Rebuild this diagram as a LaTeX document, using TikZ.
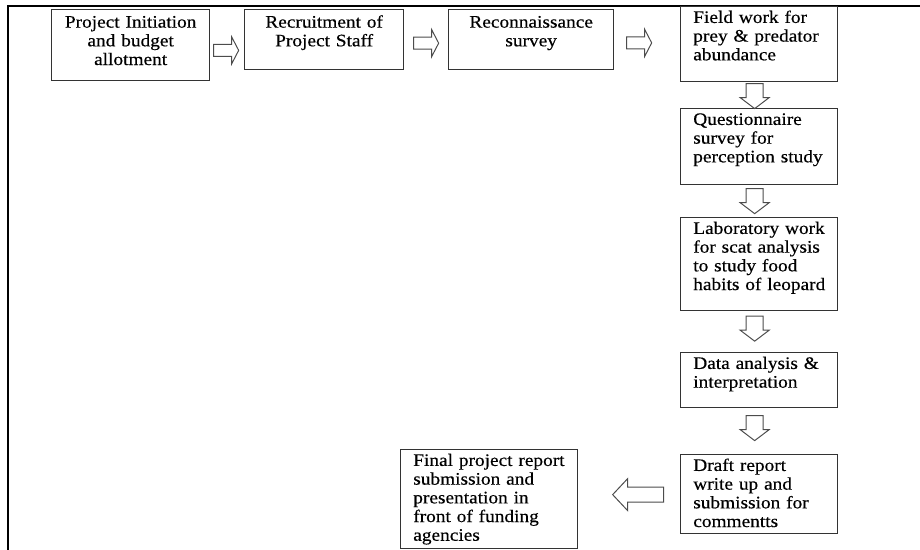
\documentclass[tikz,border=0pt]{standalone}
\usepackage{fontspec}
\setmainfont{Liberation Serif}[FakeStretch=1.10, FakeBold=0.4]
\usetikzlibrary{calc}

\tikzset{
  stage/.style={draw=black!80, line width=0.9pt, inner xsep=9pt, inner ysep=0pt,
    anchor=north west, align=left, text height=11.6pt,
    font=\fontsize{12.5}{13.3}\selectfont,
    execute at begin node={\hyphenpenalty=10000\exhyphenpenalty=10000\hbadness=10000\hfuzz=20pt}},
  toprow/.style={stage, align=center, text height=12.8pt},
  blockline/.style={draw=black!70, line width=0.7pt, fill=white},
  pics/blk/.style n args={4}{code={
    \draw[blockline] (-#1/2,-#2/2) -- (#1/2-#4,-#2/2) -- (#1/2-#4,-#3/2) -- (#1/2,0)
      -- (#1/2-#4,#3/2) -- (#1/2-#4,#2/2) -- (-#1/2,#2/2) -- cycle;
  }},
}

\begin{document}
\begin{tikzpicture}[x=0.025cm, y=-0.025cm]
\useasboundingbox (0,0) rectangle (920,550);
\draw[line width=1.5pt] (920,6) -- (8,6) -- (8,550);

\node[toprow, text width=94.4pt, text depth=37.7pt] (init) at (51,9) {Project~Initiation\\and~budget\\allotment};
\node[toprow, text width=95.1pt, text depth=29.9pt] (staff) at (244,9) {Recruitment~of\\Project~Staff};
\node[toprow, text width=99.4pt, text depth=29.9pt] (recon) at (448,9) {Reconnaissance\\survey};
\node[stage, text width=93.7pt, text depth=41.7pt] (field) at (680,6) {Field~work~for\\prey~\&~predator\\abundance};
\node[stage, text width=93.7pt, text depth=42.5pt] (quest) at (680,108) {Questionnaire\\survey~for\\perception~study};
\node[stage, text width=93.7pt, text depth=54.6pt] (lab) at (680,217) {Laboratory~work\\for~scat~analysis\\to~study~food\\habits~of~leopard};
\node[stage, text width=93.7pt, text depth=27.5pt] (analysis) at (680,352) {Data~analysis~\&\\interpretation};
\node[stage, text width=93.7pt, text depth=44.6pt] (draft) at (680,454) {Draft~report\\write~up~and\\submission~for\\commentts};
\node[stage, text width=107.9pt, text depth=58.8pt] (final) at (400,449) {Final~project~report\\submission~and\\presentation~in\\front~of~funding\\agencies};

\pic at ($(init.east)!0.5!(staff.west)+(-1,8)$) {blk={25}{12}{27}{7}};
\pic at ($(staff.east)!0.5!(recon.west)+(0,3.5)$) {blk={25}{12}{27}{7}};
\pic at ($(recon.east)!0.5!(field.west)+(-8,1)$) {blk={25}{12}{27}{7}};
\pic[rotate=-90] at ($(field.south)!0.5!(quest.north)+(-4.5,1)$) {blk={25}{17}{29}{11}};
\pic[rotate=-90] at ($(quest.south)!0.5!(lab.north)+(-4.5,0)$) {blk={25}{17}{29}{11}};
\pic[rotate=-90] at ($(lab.south)!0.5!(analysis.north)+(-4.5,-3)$) {blk={25}{17}{29}{11}};
\pic[rotate=-90] at ($(analysis.south)!0.5!(draft.north)+(-4.5,-3)$) {blk={25}{17}{29}{11}};
\pic[rotate=180] at ($(draft.west)!0.5!(final.east)+(9,-2)$) {blk={51}{15}{32}{15}};
\end{tikzpicture}
\end{document}
